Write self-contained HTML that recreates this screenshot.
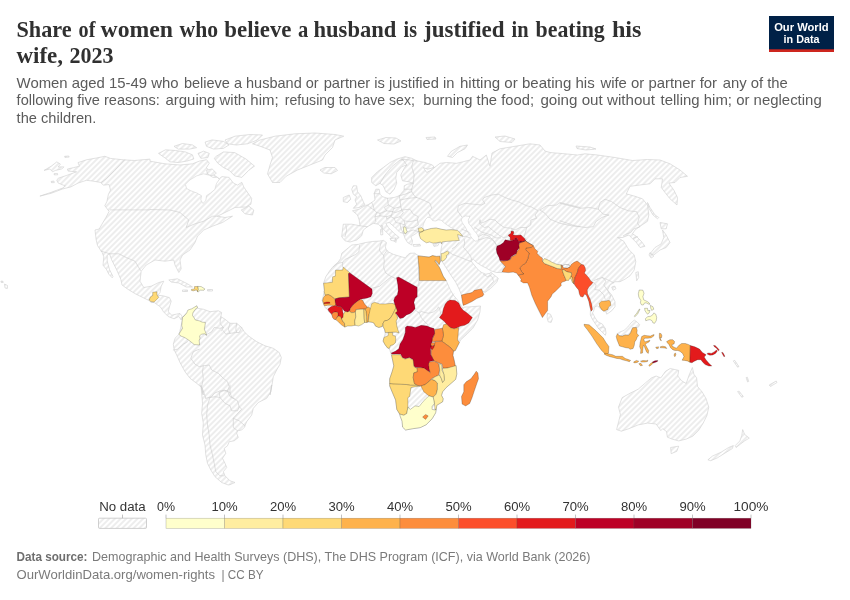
<!DOCTYPE html>
<html lang="en"><head><meta charset="utf-8"><title>Share of women who believe a husband is justified in beating his wife, 2023</title>
<style>html,body{margin:0;padding:0;background:#fff;}body{width:850px;height:600px;overflow:hidden;}svg{display:block}</style></head>
<body>
<svg width="850" height="600" viewBox="0 0 850 600">
<defs>
<pattern id="hatch" width="4" height="4" patternUnits="userSpaceOnUse" patternTransform="translate(-2.5 0) rotate(-45 2 2)"><rect width="4" height="4" fill="#fff"/><path d="M-1,2 l6,0" stroke="#ccc" stroke-width="0.7"/></pattern>
<pattern id="hatch2" width="4" height="4" patternUnits="userSpaceOnUse" patternTransform="translate(-4 0) rotate(-45 2 2)"><rect width="4" height="4" fill="#fff"/><path d="M-1,2 l6,0" stroke="#ccc" stroke-width="0.7"/></pattern>
</defs>
<rect width="850" height="600" fill="#fff"/>
<g fill="url(#hatch)" stroke="#cfcfcf" stroke-width="0.6" stroke-linejoin="round">
<path d="M351.8,245 358.2,244.4 365.3,242.6 372.4,241.5 379.4,241.1 383.5,240.4 386.5,242.6 385.3,246.8 386.5,250.3 388.8,252.1 393.5,254.4 399.4,256.2 405.3,257.9 407.6,255 410,253.2 414.7,253.2 418.2,255.6 423.2,256.4 429.1,257.1 432.6,255.6 436.2,256.4 439.9,256.2 440.3,261.5 439.1,264.6 435.6,260.6 439.7,267.9 443.2,276.2 446.2,280.6 450,289.2 453.3,295 457.5,300 460.8,305 463,308.3 464.2,307.2 471.7,306.7 480.5,306 480,311.8 477.6,320 472.9,328.2 467,334.1 460.6,340 459.4,342.4 455.3,350.6 453.5,351.2 452.9,355.3 454.1,360 455.3,365.9 456.2,366.5 456.8,374.1 455.6,379.4 450.9,383.5 446.2,387.6 442.6,391.8 441.5,395.3 443.2,398.8 442.6,401.8 436.8,405.3 436.2,409.4 435.6,412.9 432.1,418.8 426.2,424.7 420.3,427.6 412.1,428.8 405.6,430 402.6,427.1 402.1,421.2 400.3,416.5 399.7,414.1 396.8,409.4 395.6,400 392.1,391.8 389.7,385.9 389.7,378.8 392.1,371.8 393.8,365.9 392.6,360 391.2,354.7 390,350.6 389.2,348.6 387.3,347.7 384.9,344.4 383.1,341.1 384,337.4 384.9,335 385.2,332.5 384.7,329.8 383.1,326.5 382.1,326.5 378.8,327.5 375.5,326.1 374.1,323.2 372.2,322.3 368.9,321.8 365.5,321.6 361.8,323.5 355.2,324.2 348.8,323.2 344.7,324.6 340.6,322.6 337.1,319.9 335.3,319.5 332.9,317.4 331.5,314.1 328.8,311.7 327.6,309.4 325.3,307.9 324.1,305.8 322.1,300.3 323.2,296.4 324.4,290.3 323.6,283.2 325.8,276.7 330,270.3 333.5,266.2 338.2,262.1 340.6,258.5 341.8,253.2 345.3,250.3 348.8,247.4Z"/>
<path d="M39.9,196.1 51.2,192.3 62.5,188.1 65.3,185.9 58.2,183.1 56.8,180.3 58.2,178.2 66.7,175.4 76.6,171.8 68.1,171.1 67.4,169 73.8,167.6 79.4,166.2 78,162.6 86.5,159.8 96.4,158 104.8,156.3 110.5,158.4 123.2,159.8 134.5,160.5 150,159.1 150,161.2 165,163.8 180,165 192.5,163.8 199.4,161.1 206.5,159.7 209.3,163.2 206.5,167.5 209.3,171.7 212.8,174.5 216.4,176.6 219.2,178.8 222,176.6 229.1,177.4 233.3,183 237.5,185.1 241.8,182.3 243.9,187.2 248.8,194.3 251.7,198.5 250.9,204.2 246,207 235,207.5 225,212.5 217.5,216.2 225,217.5 232.5,216.2 222.5,222.5 212.5,226.2 203.8,230 197.5,236.2 195,242.5 190,250 182.5,255 180,260 181.2,268.8 178.8,272.5 175,265 173.8,260 165,261.2 155,260 146.2,265 141.2,271.2 140,281.2 143.8,287.5 151.2,286.2 158.8,282.5 163.8,281.2 161.2,286.2 160,292.5 157.8,295.2 163.5,295.9 169.4,297.6 171.2,301.2 169.4,307.1 168.2,311.8 171.8,315.2 176.5,314.1 180,313.5 182.3,316.5 181.2,320 178.8,316.5 174.1,318.8 168.2,316.5 163.5,311.8 160.6,307.1 154.1,302.4 151.2,302.5 149,300.5 141.8,297 134.8,293.5 127.8,289.2 122,285 120.8,279.2 116.5,269.5 111.5,259.5 109.5,253.9 107.2,255.2 107.2,261 109.5,269.5 113,276.5 112.2,277.8 108.8,274.2 106.5,269.5 103,265.2 103.8,256.8 102.2,252.5 101.2,251.2 97.5,245.5 96.2,240 95,230 99.2,229 102,224.1 106.2,217 109.1,211.4 104.8,205.7 106.9,201.5 108.4,194.4 110.5,190.2 109.1,184.5 103.4,185.2 100.6,182.4 92.1,181 86.5,180.3 78,183.1 70.9,186.9 62.5,189 51.2,193.3Z"/>
<path d="M44.1,170.4 51.2,166.2 56.8,161.9 60.4,164.1 58.2,166.9 63.9,166.9 61.8,169 55.4,170.4 52.6,171.8 49.8,169ZM64.6,156.3 68.8,156 69.1,157.1 64.9,157.4ZM51.2,181.4 54,181.1 54.3,182.6 51.5,182.7ZM54,173.7 57.5,173.5 57.7,174.8 54.3,174.9Z"/>
<path d="M1,281 3,281.3 3.2,282.5 1,282.3ZM4.5,284 7.5,285.5 7.3,288.5 5,288Z"/>
<path d="M272.5,182.5 267.5,173.8 270,165 272.5,157.5 270,150 260,146.2 252.5,143.8 260,140 275,136.2 295,133.8 315,133 335,134.5 343.8,136.2 335,140 332.5,147.5 325,155 322.5,160 310,165 297.5,170 286.2,176.2 280,182.5Z"/>
<path d="M320,170 325,167.5 335,167.5 337.5,170.5 331.2,173.8 323.8,173Z"/>
<path d="M216.4,156.2 223.4,151.9 234.7,152.6 246,159 254.5,166.1 248.8,170.3 241.8,177.4 234.7,175.9 229.1,170.3 223.4,167.5 217.8,163.2 214.2,158.3ZM158.5,153.4 165.5,149.8 175.4,150.5 185.3,151.9 192.4,154.8 193.8,159 186.7,161.1 178.2,162.5 169.8,161.8 165.5,158.3ZM174,146.3 182.5,143.5 192.4,144.9 196.6,147.7 189.5,149.1 178.2,149.1ZM198,153.4 203.6,151.2 209.3,153.4 207.9,157.6 200.8,158.3ZM205.1,142.1 212.1,139.9 223.4,141.4 229.1,144.9 223.4,148.4 213.5,149.1 206.5,146.3ZM206.5,170.3 212.1,168.9 216.4,173.1 212.1,175.9 207.9,174.5ZM225,140 235,136.2 250,134.5 262.5,135 257.5,140 247.5,143.8 236.2,145 227.5,143.8ZM241.2,210 248.8,206.2 253.8,210 252.5,215 245,213.8Z"/>
<path d="M168.8,280 177.5,278.8 187.5,283.8 192.5,287 186.2,287 178.8,283 171.2,282ZM182.5,290 187.5,290 187.5,291.5 182.5,291.5ZM207.5,289.5 212.5,289.5 212.5,291 207.5,291Z"/>
<path d="M182.5,319.5 183,316.5 188,312 196.5,306.5 196.7,305.8 197.5,308.3 203.3,309.2 210,311.7 218.3,310.8 221.7,312.5 220.8,316.7 225,319.2 230,323.3 236.7,323.3 241.7,327.5 244.2,331.7 248.3,335.8 256.7,341.7 265,345.8 273.3,348.3 279.2,352.5 281.3,357.5 280,364.2 276.7,370 273.3,376.7 271.7,386.7 270,395 271.7,385 270.8,391.7 266.7,398.3 258.3,402.5 253.3,408.3 251.7,415 246.7,421.7 244.2,427.5 241.7,430 237.5,430.8 236.7,433.3 238.3,437.5 234.2,440.8 229.2,441.7 227.5,445.8 224.2,448.3 225.8,453.3 222.5,458.3 225,463.3 226.7,467.5 223.3,471.7 225,475.8 230,480.8 235,482.5 230,484.7 228.3,485 221.7,482.5 215,476.7 210.8,470 207.5,463.3 205.8,455 205,445 202.5,435 203.3,423.3 201.7,413.3 202.5,403.3 201.7,393.3 200.8,385 203.3,395 201.7,387.5 196.7,383.3 190,378.3 185,371.7 180,362.5 176.7,355 174.2,350 173.3,344.2 175,338.3 179.2,334.2Z"/>
<path d="M418.3,231.7 415,234.2 410.8,236.7 412.5,240.8 411.7,245 407.5,242.5 405,238.3 403.3,233.3 400,232.5 394.2,226.7 389.2,222.5 385.8,223.3 388.3,227.5 394.2,233.3 399.2,237.5 396.7,239.2 395.8,242.5 391.7,237.5 386.7,232.5 381.7,227.5 378.3,224.2 373.3,223.3 367.5,226.7 363.3,230 361.7,235.8 356.7,240 350,242 345,240.8 341.7,236.7 342.5,230 343.3,224.2 351.7,224.2 360,225.8 359.2,220 357.5,215 352.5,210.8 359.2,209.2 363.3,206.7 367.5,205 371.7,202.5 375,200 374.2,193.3 375.8,189.2 379.2,189.2 380,194.2 382.5,196.7 387.5,198.3 394.2,197.5 399.2,195.8 404.2,190 404.2,185.8 407.5,184.2 413.3,183.3 408.3,181.7 402.5,180.8 400.8,175 404.2,168.3 406.7,165 401.7,166.7 396.7,172.5 395.8,178.3 396.7,183.3 394.2,189.2 390,194.2 385.8,191.7 383.3,185.8 380,183.3 375.8,185.8 371.7,182.5 371.7,177.5 377.5,171.7 383.3,167.5 390,162.5 396.7,159.2 405,156.7 411.7,158.3 416.7,160.8 425,162.5 432.5,165 434.2,167.5 427.5,169.2 423.3,167.5 426.7,172.5 430,170.8 436.7,165.8 440,163.3 446.7,162.5 456.7,163.3 463.3,161.7 470,160 472.5,156.3 480,160 486.3,155 490,166.3 492,153 500,148.8 515,146.3 530,143.8 540,145 545,151 550,152.5 565,153.8 577.5,155 585,153.8 597.5,155 615,157.5 632.5,160.5 647.5,159.5 660,160 670,163.8 680,170 687.5,176.3 680,177.5 675,182.5 668.8,183 673.8,190 677.5,197.5 677,205 670,198.8 665,192.5 661.3,187.5 662.5,178.8 655,178.8 650,183.8 640,185 630,186.3 626.3,193.8 635,196.3 642.5,198.8 647.5,205 648.8,215 647.5,221.3 640,226.3 635,230 632.5,233.8 636.3,236.3 641.3,241.3 645,246.3 640,247.5 636.3,242.5 631.3,237.5 628.8,235 622.5,237.5 617.5,237.5 623.8,241.3 627.5,247.5 629.2,250 634.2,255 635.8,261.7 634.2,270 630,275.8 625,279.2 620,281.7 615,281.7 610,285 607.5,290 611.7,295 615,301.7 615,306.7 611.7,310.8 606.7,314.2 605.8,311.7 601.7,310 597.5,305.8 595,306.7 593.3,311.7 592.5,312.8 594.8,317.3 597.8,321.8 602.3,324 605.3,328.5 606,333 605.3,335.3 602.3,332.3 598.5,328.5 595.5,324 592.5,319.5 590.3,315 590.5,309 589,301 586,294 581,291 577,281 570,272 560,275 545,292 530,278 522,272 510,268 503,269 501.7,272.5 496.7,272.5 490.8,270.8 486.7,268.3 481.7,265.8 476.7,262.5 473.3,259.2 470.8,260.8 474.2,265 478.3,270 481.7,272.5 485.8,274.2 490,273.3 490.8,272.2 494.2,275 498.3,278.3 496.7,282.5 490.8,288.3 485,292.5 482.5,290.8 473.3,295 465,296.7 462,298.3 461.5,295 459.2,289.2 455.7,282.2 450.8,275 445,266 441.7,260.8 440.3,256.2 440.9,250.3 441.8,245.6 442.1,243.8 432,238 421,237 419.1,234.4 418.3,230.9Z"/>
<path d="M353.3,185.8 356.7,185.8 357.5,191.7 360.8,195.8 363.3,201.7 365,205 359.2,207.5 353.3,208.3 356.7,204.2 355,200 356.7,196.7 353.3,194.2 351.7,189.2ZM343.3,197.5 349.2,195 350.8,199.2 347.5,202.5 343.3,201.7ZM390,238.3 395.8,238 395,241.3 390.8,240.3ZM380.5,229.5 382.5,229.2 382.8,234.7 380.8,235ZM381.3,225.5 382.7,225.8 382.5,228.7 381.3,228.3ZM433,244.3 439.5,242.3 438,245.6 434,246.4ZM413,244.6 420,244.3 420.5,246 413.5,246.3ZM377.5,140 386,137.5 396,138 401,141 394,144 384,143.5ZM426,137.5 435,137 436,139 427,139.5ZM447.5,156.3 451.3,151.3 460,146.3 467.5,145 465,148.8 457.5,152.5 452.5,157.5ZM495,137 505,136 515,139 512,142.5 500,141.5ZM576,146 590,147 596,149 586,150 577,148.5Z"/>
<path d="M647.5,202.5 650,207.5 655,215 658.8,217.5 657.5,218.8 653,215 648.8,208ZM660,222.5 667.5,223.8 666.2,228.8 661.2,228.8ZM662.5,230 666.2,235 670,242.5 666.2,247.5 660,250 653.8,255 650,253.8 655,247.5 661.2,243.8 663.8,237.5ZM650,252.5 653.8,256.2 651.2,258 649,255ZM635.8,272.5 638.3,271.7 638.7,277.5 636.7,280.8ZM611.7,287 614.7,286 616,288.7 613,290.3ZM547.4,313.2 550.6,314.4 552.4,318.8 551.2,322.4 548.2,321.8 547.1,317.6Z"/>
<path d="M617.4,333.7 619.9,332 624,330.4 627.7,327.1 631,322.9 634.3,320.1 637.2,322.1 639.7,324.6 638.4,327.1 636.4,327.5 632.7,327.7 631.8,329.5 630.6,332.8 628.5,335.3 625.2,334.9 622.4,336.1 619.1,335.7Z"/>
<path d="M616.6,429.6 618.5,422.1 620.4,414.6 618.5,407.1 622.2,397.6 630.7,392.9 638.2,389.2 645.8,382.6 651.4,377.9 656.1,376 660.8,377.9 665.5,371.3 670.2,368.5 678.7,370.4 677.8,376 681.5,380.7 686.2,383.5 689.1,375.1 692.4,367.5 693.8,374.1 696.6,377.9 697.5,386.4 702.2,392 706,398.6 708.8,407.1 706.9,415.5 703.2,423.1 698.5,430.6 692.8,436.2 686.2,439.1 678.7,440.9 672.1,439.1 667.4,437.2 666.5,431.5 662.7,428.7 660.8,430.6 656.1,424 647.6,423.1 638.2,424.9 628.8,428.7 621.3,431.2ZM670.6,447.5 678.7,446.2 676.8,451.3 671.2,453.7ZM742.7,429.6 744.6,434.4 749.3,438.1 744.6,440.9 740.8,443.8 736.1,447.5 735.2,445.6 739.9,440.9 741.8,435.3ZM733.3,445.6 732.4,448.5 724.8,453.2 717.3,457.9 710.7,460.7 707.9,459.8 712.6,456 721.1,452.2 728.6,447.5ZM737.6,391.6 739.1,391.2 743.3,396.5 741.8,397.3ZM746.1,377.5 747.4,377.3 748.7,381.5 747.6,382ZM769.2,385 776.2,381 777,382.5 770.5,386.5ZM733.3,360.9 734.8,360.4 738.9,366.6 737.6,367.2Z"/>
</g>
<g fill="#fff" stroke="#d4d4d4" stroke-width="0.6" stroke-linejoin="round">
<path d="M185.3,184.4 189.5,180.2 196.6,175.9 203.6,173.8 209.3,175.2 212.8,177.4 217.8,177.4 219.2,179.5 216.4,183.7 214.9,189.4 210.7,192.9 206.5,195.7 205.8,200.7 202.9,203.5 200.8,199.9 201.5,195.7 196.6,192.9 190.9,190.8 186.7,188.6Z"/>
<path d="M422.7,227.2 423.5,223.9 425.6,219.4 427.7,217.3 430.5,217.7 432.6,220.6 435.5,221 438.4,219.8 441.2,220.2 444.5,223.1 447.8,225.5 451.1,227.6 454.4,229.5 451.1,229.9 446.2,230.3 441.2,229.4 436.3,228.2 431.4,228.6 423.9,230.5Z"/>
<path d="M462.4,217.6 465.3,215.9 470,216.5 468.2,220 468.8,223.5 471.8,227.1 474.1,230.6 477.1,234.1 478.8,237.6 478.8,240.6 475.3,241.2 472.4,238.8 470,235.3 467.6,231.8 465.3,227.1 462.4,222.9 461.2,220Z"/>
</g>
<g fill="none" stroke="#cdcdcd" stroke-width="0.6" stroke-linejoin="round" stroke-linecap="round">
<polyline points="124.6,159.8 114.7,170.4 106.2,178.9 101.3,182.4"/>
<polyline points="110.5,209.9 150,209.9 150,209.5 170,210 180,212.5 188.8,220 186.2,227.5 195,223.8 203.8,221.2 212.5,216.2 217.5,216.2"/>
<polyline points="101.2,251.2 110,253.8 118.8,253.8 126.2,257.5 135,261.2 140.5,270.5"/>
<polyline points="359.6,245.4 358.9,251.8 355.4,254.6 349.7,257.4 344.8,259.5 342.6,262.4 342.4,266.9"/>
<polyline points="342.6,262.4 337.7,263.3 333.5,266.6"/>
<polyline points="381.5,241.9 380.1,246.1 379.4,250.4 381.5,253.2 383.6,255.3"/>
<polyline points="387.1,250.4 385,253.2 383.6,255.3 384.3,261.6 383.6,267.3 385.7,272.9 389.9,275.8 391.4,276.5 395.6,278.6 397,277.6"/>
<polyline points="391.4,276.5 379.4,286.4 372,288.2"/>
<polyline points="418.2,256.7 418.9,280.7 418.9,285.9 416.8,286.4"/>
<polyline points="414.4,309.1 416.8,311.5 419.1,312.9 421.5,311.5 425,312.6 428.5,313.2 433.2,312.1 436.8,309.7 438.5,306.8 439.7,309.1 440.9,314.4"/>
<polyline points="419.1,312.9 421.5,317.9 425,322.1 427.9,324.6"/>
<polyline points="449.5,299.9 451.5,296.2 453.8,293.8"/>
<polyline points="345.8,225 346.7,230 345,236.7"/>
<polyline points="360,225.8 367.5,226.7"/>
<polyline points="367.5,205 370,207.5 374.2,210 376.7,212.5 375,216.7 375.8,221.7 374.2,223.3"/>
<polyline points="371.7,202.5 373.3,205.8 374.2,210"/>
<polyline points="387.5,198.3 388.3,205 384.2,207.5 386.7,210.8 380,213.3 376.7,212.5"/>
<polyline points="380,213.3 380,215.8 375,216.7"/>
<polyline points="386.7,210.8 392.5,211.7 391.7,215 386.7,216.7 380,215.8"/>
<polyline points="386.7,216.7 386.7,219.2 390.8,216.7 394.2,218.3 395.8,222.5 400,223.3 400.8,228.3 403.3,233.3"/>
<polyline points="399.2,195.8 400,200 400.8,206.7 394.2,208.3 388.3,205"/>
<polyline points="392.5,211.7 394.2,208.3"/>
<polyline points="400.8,206.7 401.7,210 395.8,212.5 392.5,211.7"/>
<polyline points="391.7,215 390.8,216.7"/>
<polyline points="401.7,210 403.3,212.5 400,216.7 394.2,218.3"/>
<polyline points="401.7,210 410,209.2 413.3,214.2 418.3,216.7 417.5,220 410,221.7 404.2,220.8 400,216.7"/>
<polyline points="404.2,220.8 405,225 407.5,228.3 413.3,227.5 418.3,225 417.5,220"/>
<polyline points="400,200 408.3,198.3 416.7,197.5 423.3,200 430,203.3 431.7,208.3 428.3,212.5 430,215.8"/>
<polyline points="399.2,195.8 405,194.2 411.7,191.7 415,196.7 416.7,197.5"/>
<polyline points="404.2,189.2 411.7,189.2"/>
<polyline points="413.3,183.3 411.7,189.2 411.7,191.7"/>
<polyline points="413.3,182.5 414.2,175 411.7,166.7 413.3,160.8"/>
<polyline points="406.7,165 403.3,160 401.7,159.2"/>
<polyline points="380,183.3 385,175 391.7,166.7 400,160 403.3,160"/>
<polyline points="401.7,159.2 410,160 413.3,160.8 416.7,160.8"/>
<polyline points="403.3,233.3 408.3,231.7 413.3,230 418.3,231.7"/>
<polyline points="400,223.3 405,225"/>
<polyline points="374.2,193.7 379.2,193.7"/>
<polyline points="461.7,216.7 457.5,210.8 458.3,205.8 465,203.3 473.3,204.2 481.7,205 485,203.3 482.5,200 484.2,197.5 491.7,195 498.3,194.2 505,197.5 511.7,200 518.3,201.7 526.7,205.8 530.8,206.7 538.3,210.8 535,215 536.7,218.3 530.8,220 530.8,225 526.7,227.5 520,227.5 515,230 511.7,228.3 512.5,231.7"/>
<polyline points="480,220 480.8,223.3 485,221.7 490,219.2 495,220 498.3,223.3 504.2,227.5 511.7,228.3"/>
<polyline points="480,220 479.2,223.3 484.2,227.5 488.3,226.7 493.3,230.8 500,235.8 503.3,237.5 508.3,236.7"/>
<polyline points="478.3,236.7 483.3,234.2 488.3,235.8 493.3,240 495.8,244.2"/>
<polyline points="526.7,227.5 524.2,236.7 526.7,240"/>
<polyline points="540,210 546.7,205.8 556.7,205 560,202.5 566.7,204.2 580,207.5"/>
<polyline points="540,210 545,213.3 550,219.2 560,223.3 571.7,225.8 580,226.7"/>
<polyline points="560,203.3 570,205.8 580,208.3 590,207.5 598.3,209.2 600,202.5 605,199.2 611.7,201.7 620,207.5 628.3,210.8 636.7,211.7 639.2,217.5 637.5,223.3 640,226.7 633.3,229.2 630.8,232.5 625.8,234.2 623.3,235.8"/>
<polyline points="598.3,209.2 603.3,214.2 609.2,215 601.7,217.5 595.8,221.7 593.3,226.7 585,227.5 575,225.8 565,222.5 560,220.8"/>
<polyline points="633.3,238.3 637.5,236.7"/>
<polyline points="458.8,242.6 455.3,246.8 452.4,248.5"/>
<polyline points="464.1,239.1 464.7,243.8 463.5,247.4 467.6,252.1 470.6,256.2 471.8,260.1"/>
<polyline points="448.8,251.5 452.4,254.4 460.6,257.4 467.6,260.3 471.2,261.5"/>
<polyline points="462.4,236.8 465.3,236.2 470,237.9"/>
<polyline points="478.2,239.7 481.8,239.1 486.5,237.4 491.2,239.1 495.3,242.6 496.5,245.6"/>
<polyline points="500.6,260.9 502.9,265 505.3,268.5 501.8,272.1"/>
<polyline points="487.6,287.9 493.5,281.5 492.4,277.4 490,275.6"/>
<polyline points="483.5,274.4 487.6,276.8 491.2,275"/>
<polyline points="461.8,229.1 468.8,232.1 470.6,234.4"/>
<polyline points="474.7,227.4 481.8,232.1 491.2,235 495.9,237.9 500.6,237.9"/>
<polyline points="220.8,316.7 220,323.3 223.3,327.5 221.7,330.8"/>
<polyline points="205.8,335 211.7,331.7 214.2,327.5 220,328.3 223.3,327.5"/>
<polyline points="230,323.3 228.3,329.2 230,333.3"/>
<polyline points="236.7,323.3 235.8,329.2 236.7,332.5"/>
<polyline points="241.7,327.5 239.2,332.5 236.7,332.5 230,333.3 225.8,334.2 223.3,330.8"/>
<polyline points="173.3,350 177.5,349.2 183.3,344.2 187.5,341.7"/>
<polyline points="199.2,349.2 193.3,351.7 190.8,358.3 195,364.2 199.2,366.7 203.3,365.8 209.2,365 211.7,370 218.3,373.3 223.3,378.3 227.5,381.7 229.2,386.7 227.5,390.8"/>
<polyline points="203.3,365.8 202.5,371.7 203.3,378.3 201.7,386.7 204.2,393.3 205.8,398.3"/>
<polyline points="205.8,398.3 211.7,396.7 214.2,393.3 220,390.8 227.5,390.8 230,396.7 234.2,398.3"/>
<polyline points="210,397.5 207.5,405 206.7,415 207.5,425 209.2,435 210,445 212.5,455 214.2,463.3 215.8,471.7 220,475.8 224.2,475.8"/>
<polyline points="210,397.5 215,396.7 220,397.5 219.2,392.5 224.2,390 230,392.5 231.7,397.5 237.5,400.8 239.2,406.7 237.5,410.8 231.7,410.8 230,405.8 225,403.3 220,397.5"/>
<polyline points="239.2,406.7 241.7,409.2 233.3,418.3 239.2,420.8 245,425.8"/>
<polyline points="233.3,418.3 233.3,427.5 237.5,430.8"/>
<polyline points="230,392.5 230,385"/>
<polyline points="593.2,282 596.2,285 594.7,289.5 599.2,290.2 603.7,294.7 605.2,299.2"/>
<polyline points="597.7,279 602.2,277.5 606,281.2 603.7,285 607.5,290.2 610.5,295.5 609.7,299.2"/>
<polyline points="594,280.5 597.7,279"/>
<polyline points="602.2,277.5 607.5,279.7 613.5,282.7"/>
<polyline points="598.5,328.5 602.2,327 605.2,328.5"/>
</g>
<g stroke="#000" stroke-opacity="0.42" stroke-width="0.5" stroke-linejoin="round">
<path fill="#fed976" d="M343.3,267.1 350,272.9 348.5,273.6 349.4,297.1 344.1,297.4 339.2,297.8 335.3,298.8 333.2,297.8 331.1,296 328.2,294.6 325.1,295.3 324.2,291.4 324.4,290.3 323.6,283.2 332.4,282.3 332.6,276.8 335.3,276.2 335.6,270.1 342.7,270.1Z"/>
<path fill="#bd0026" d="M348.5,273.6 350,272.9 372,289.1 372.3,293.5 370.9,296.7 367.4,298.1 363.2,298.8 360.7,299.2 357.5,301.3 354.7,303.4 352.6,305.5 350.5,308.3 349.4,311.2 347.6,311.9 345.2,311.5 344.5,311.2 342.3,308.3 340.6,306.4 338.1,306.6 335.6,305.2 334.9,301.6 335.3,298.8 339.2,297.8 344.1,297.4 349.4,297.1Z"/>
<path fill="#fd8d3c" d="M350.5,308.3 352.6,305.5 354.7,303.4 357.5,301.3 360.7,299.2 362.8,300.6 364.6,304.1 367,306.6 367.4,307.6 364.9,309.1 360.3,309.2 356.1,309.6 355.4,311.9 353.3,312.6 351.2,312.6 349.4,311.2Z"/>
<path fill="#feb24c" d="M325.1,295.3 328.2,294.6 331.1,296 333.2,297.8 334.9,299.2 335.6,305.2 333.9,305.9 331.1,305.2 327.9,305.2 325.1,305.9 324,305.2 322.6,300.6 323.3,297.8Z"/>
<path fill="#e31a1c" d="M327.9,309.1 331.1,306.6 333.9,306.1 335.6,305.4 338.1,306.6 340.6,306.4 342.3,308.3 342.7,311.2 343.4,314.3 343.1,317.2 341.6,318.9 340.6,316.8 338.5,316.1 337.1,317.5 338.1,314.7 337.8,312.6 335.3,311.9 333.2,312.6 331.8,314.3 330,312.6 328.6,310.8Z"/>
<path fill="#fd8d3c" d="M331.8,314.3 333.2,312.6 335.3,311.9 337.8,312.6 338.1,314.7 337.1,317.5 335.6,319.6 333.9,319.3 332.5,317.2Z"/>
<path fill="#feb24c" d="M337.1,317.5 338.5,316.1 340.6,316.8 341.6,318.9 342.7,321.1 344.5,323.2 344.8,327.1 342,325.3 339.2,322.8 336.7,320.3 335.6,319.6Z"/>
<path fill="#fed976" d="M343.4,314.3 345.2,311.5 347.6,311.9 349.4,311.2 351.2,312.6 353.3,312.6 355.4,311.9 355.8,316.8 354.7,321.1 355.1,325.3 351.2,326 347.6,326 344.8,327.1 344.5,323.2 342.7,321.1 341.6,318.9 343.1,317.2Z"/>
<path fill="#ffeda0" d="M356.1,309.6 360.3,309.2 363.9,309.2 364,313.3 364.2,318.2 364.6,322.5 361.8,324.6 358.6,326 355.1,325.3 354.7,321.1 355.8,316.8 355.4,311.9Z"/>
<path fill="#feb24c" d="M364.9,309.1 367.4,307.6 368.8,306.9 370.9,309.1 370.6,311.9 369.2,314 368.5,317.5 368.2,322.1 366.7,322.5 366.6,316.8 366,311.2Z"/>
<path fill="#fed976" d="M370.8,306.8 371.8,303.5 374.6,302.3 379.8,303.9 385.4,303.9 392,303.3 395.3,304.4 396.2,305.8 395.8,308.2 394.4,311 392.5,314.8 390.1,318.5 387.3,320.4 384.5,320.9 383.1,323.2 382.1,326.5 378.8,327.5 375.5,326.1 374.1,323.2 372.2,322.3 368.3,321.8 368.7,317.6 369.2,313.8 370,310.1Z"/>
<path fill="#fed976" d="M396.2,305.8 397.2,309.1 397.6,312.4 395.6,313.4 397.2,316.2 397.6,318.5 396.2,320.9 396.7,325.1 397.6,328.9 399.1,333.1 396.2,332.2 392.5,332.2 388.2,332.5 385.2,332.5 384.7,329.8 383.1,326.5 383.1,323.2 384.5,320.9 387.3,320.4 390.1,318.5 392.5,314.8 394.4,311 395.8,308.2Z"/>
<path fill="#fed976" d="M388.2,332.6 392.5,332.5 392.9,335.5 395.3,335.9 395.8,339.2 395.3,343 392.9,344.9 390.6,345.4 389.2,348.6 387.3,347.7 384.9,344.4 383.1,341.1 384,337.4 388.2,335.5Z"/>
<path fill="#bd0026" d="M396.6,277.8 398.6,277 417.2,287.3 417.2,296.8 415.1,298.4 413.9,302.5 414.7,305.4 415.1,308.7 412.2,312 409.8,313.7 406.5,314.9 403.2,317.8 399.9,318.6 397.8,315.7 395.4,312.8 397.4,311.2 396.6,308.7 394.9,304.6 393.7,300.5 394.9,297.2 397.4,294.7 398.2,290.6 397.8,284.8 397,280.7Z"/>
<path fill="#e31a1c" d="M450,300 455.3,300.6 458.8,302.9 460.6,307.1 462.9,310 467.1,312.9 472.4,317.6 468.8,322.9 464.7,325.3 460.6,326.1 457.6,327.6 454.1,328.8 450,327.6 446.5,324.1 444.1,321.2 439.4,317.6 442.4,313.5 443.5,308.2 445.3,304.1 447.6,301.2Z"/>
<path fill="#feb24c" d="M443.5,324.7 446.5,324.1 450,327.6 454.1,328.8 458.6,327.6 458.2,334.1 457.6,340 459.4,342.4 455.3,350.6 453.5,351.2 450.6,347.6 441.8,341.2 443.5,335.3 442.4,328.8Z"/>
<path fill="#fd8d3c" d="M434.7,329.4 442.4,328.2 443.5,335.3 441.8,341.2 436.5,341.2 432.4,341.8 431.8,340 434.1,335.3Z"/>
<path fill="#fd8d3c" d="M434.7,341.8 441.8,341.2 450.6,347.6 453.5,351.2 452.9,355.3 454.1,360 455.3,365.9 451.8,367.6 445.3,368.2 442.9,368 442.1,364.1 437.6,362.4 433.5,360.6 431.2,355.3 431.2,350.6 433.5,347.1 434.7,344.1Z"/>
<path fill="#bd0026" d="M407.1,325.9 411.8,326.5 415.3,327.4 421.2,325.3 427.1,325.9 430.6,327.6 434.1,328.6 434.7,333.5 432.4,338.2 431.8,342.9 430.6,348.8 430.8,354.7 433.9,360.4 429.6,361.4 428.8,365.3 430,371.8 428.2,371.2 424.1,368.2 420,367.6 415.3,367.6 413.5,365.3 412.9,359.4 409.4,357.6 405.3,358.8 402.4,357.6 400.6,354.1 391.8,354.1 391.2,352.9 395.3,351.2 398.8,348.8 400,344.1 402.9,339.4 405.3,332.4 405.3,327.6Z"/>
<path fill="#fed976" d="M391.5,354.7 400.3,354.7 402.1,357.6 405,359.1 409.1,357.9 413.2,360 413.8,366.5 417.4,368.8 417.4,371.8 413.8,372.9 413.2,377.6 414.4,383.5 417.4,385.3 410.3,385.3 406.2,384.5 393.2,384.1 389.7,383.5 389.7,378.8 392.1,371.8 393.8,365.9 392.6,360Z"/>
<path fill="#fed976" d="M389.7,383.5 393.2,384.1 406.2,384.5 410.3,385.3 417.4,385.3 420.3,386.1 415.6,386.7 410.9,387.6 409.7,396.5 407.9,397.6 407.9,407.1 406.8,413.5 403.8,415.3 399.7,414.1 396.8,409.4 395.6,400 392.1,391.8 389.7,385.9Z"/>
<path fill="#fd8d3c" d="M413.8,372.9 417.4,371.8 417,368.2 417.9,367.5 423.8,368 429.1,371.8 430.3,372.9 429.1,368.8 428.5,363.5 430.3,361.8 434.4,361.2 438.5,363.5 439.7,369.4 438.5,375.3 434.4,377.1 431.5,378.8 428.5,381.8 425,384.7 420.9,385.9 417.4,385.3 414.4,383.5 413.2,377.6Z"/>
<path fill="#feb24c" d="M420.9,385.9 425,384.7 428.5,381.8 431.5,379.4 435,380.6 437.4,382.9 437.4,389.4 436.2,394.1 433.2,397.1 429.1,395.9 423.8,391.8Z"/>
<path fill="#ffeda0" d="M442.1,368.5 447.4,368 454.4,366.1 456.2,365.6 456.8,374.1 455.6,379.4 450.9,383.5 446.2,387.6 442.6,391.8 441.5,395.3 443.2,398.8 442.6,401.8 436.8,405.3 436.2,409.4 435,409.4 434.4,403.5 433.2,397.1 436.2,394.1 437.4,389.4 437.4,382.9 435,380.6 432.1,379.4 434.4,377.1 438.5,375.3 439.7,375.3 441.5,378.8 442.6,382.4 444.4,380 443.8,374.1Z"/>
<path fill="#ffffcc" d="M399.7,414.1 403.8,415.3 406.8,413.5 407.9,407.1 410.3,409.4 415,405.9 419.1,406.5 421.5,403.5 425.6,398.8 429.1,395.9 433.2,397.1 434.4,403.5 432.1,406.5 432.1,409.4 435,410 436.2,409.4 435.6,412.9 432.1,418.8 426.2,424.7 420.3,427.6 412.1,428.8 405.6,430 402.6,427.1 402.1,421.2 400.3,416.5Z"/>
<path fill="#fd8d3c" d="M476.2,371.2 477.9,372.9 478.5,378.8 476.8,383.5 474.4,390.6 472.1,397.6 469.7,403.5 465.6,405.9 462.1,404.1 461.5,396.5 463.8,391.8 463.8,384.7 466.2,381.8 470.9,378.8 474.4,374.1Z"/>
<path fill="#ffeda0" d="M419.4,232.9 423.9,230.5 431.4,228.4 436.3,228 441.2,229.2 446.2,230.1 451.1,229.7 455.2,230.1 457.7,230.5 460.2,232.9 462.7,236.2 460.2,235.4 457.7,234.6 458.5,238.7 459.4,240.4 454.4,240.8 449.5,241.2 444.5,241.6 442.1,242 441.7,243.7 440.8,242 436.3,242.8 433,243.2 429.7,242 426.4,242.8 423.9,241.2 420.6,238.7 419.4,235.4ZM418.2,228.4 421.5,227.6 424.1,229.7 422.7,231.7 419,232.1Z"/>
<path fill="#ffffcc" d="M403.7,226.9 405.1,226.7 406,228.1 406.3,229.9 407.2,231.3 406.3,232.7 405.4,234.1 404.5,233.1 403.7,231.3 403.5,228.8Z"/>
<path fill="#ffeda0" d="M441.3,253.5 443.8,253.1 447.3,251 449.1,252.4 448.4,254.2 446.3,255.6 446.6,257.4 444.5,260.2 442.4,261.2 441,260.5 441.3,257Z"/>
<path fill="#feb24c" d="M417.9,255.9 423.2,256.4 429.1,257.1 432.6,255.6 436.2,256.4 439.9,256.2 440.3,261.5 439.1,264.6 437.4,262.1 435.6,260.3 434.8,260.9 436.4,263.2 439.7,267.9 443.2,276.2 446.2,280.6 419.5,280.6 419.1,267.9Z"/>
<path fill="#fd8d3c" d="M461.5,295 466.2,293.8 472.1,292.6 474.4,290.3 481.5,288.9 483.8,294.4 482.6,296.2 476.8,298.5 472,301.5 467.4,303.8 463.2,305.4 462.1,300.3Z"/>
<path fill="#fd8d3c" d="M525.6,240.9 528.5,243.2 533.2,245.6 534.9,248.7 537.8,251.6 537,253.2 539.1,255.7 542.4,258.2 542.4,261.1 544.4,263.5 548.9,265.2 553.1,266.8 557.2,268.5 561.3,268.9 561.3,264.8 562.5,265.4 563.4,267.7 567.1,268.1 570,266.8 571.2,264.4 574.1,262.3 577,261.1 579,262.3 581.5,264.4 579.4,266.8 578.2,268.9 577.4,272.2 576.1,275.1 574.9,277.5 574.5,281.2 573.7,283.7 572.8,281.2 572.4,277.9 571.2,276.7 570.4,277.5 571.6,274.7 571.2,272.6 568.7,272.2 566.2,271.4 563.8,269.7 562.1,269.7 562.9,272.2 563.8,274.7 565,277.5 566.2,280.4 565,281.2 562.1,282.1 560.9,283.7 561.3,285.4 558,288.7 554.7,292 552.2,294 551.2,296.5 547.6,301.2 547.6,310.6 545.3,313.5 542.4,317.6 538.8,310.6 535.3,303.5 531.8,295.3 529.4,287.1 527.6,282.9 523.5,282.9 520.6,281.2 521.2,279.4 518.2,275.1 523.8,273.8 521.5,271.5 519.7,267.9 522.6,265 525.6,263.2 527.9,258.5 529.1,253.2 525.6,249.7 526.2,247.9 531.5,247.4 533.2,245.6Z"/>
<path fill="#fd8d3c" d="M525.6,240.9 528.5,243.2 533.2,245.6 531.5,247.4 526.2,247.9 525.6,249.7 529.1,253.2 527.9,258.5 525.6,263.2 522.6,265 519.7,267.9 521.5,271.5 523.8,273.8 517.9,275 516.8,273.2 513.2,272.1 508.5,272.6 502.1,272.1 503.8,268.5 505.6,266.8 500.3,260.9 505,260.9 510.3,259.7 511.5,256.8 515.6,255 516.2,252.6 519.1,249.1 518.5,245.6 520.3,242.6Z"/>
<path fill="#9f0026" d="M505.2,239.8 510.2,240.7 511.4,240.7 514.3,239.4 515.5,237.8 517.2,238.6 518.4,241.5 520.9,241.1 522.9,241.5 525.4,240.2 525.8,240.8 522.5,241.9 519.7,242.7 518.8,244.8 519.2,248.1 517.2,250.5 516.4,253.4 513.9,255.1 511,256.7 510.2,259.2 507.7,260.4 503.6,260.8 499.9,260.4 499.1,257.5 497,253.4 496.2,249.3 497,246 500.3,244.8 503.2,242.7Z"/>
<path fill="#e31a1c" d="M511,231.2 513.5,231.2 513.9,233.2 512.7,234.5 514.7,235.3 518,235.3 520.9,234.9 522.9,236.9 524.6,238.6 525.4,240.2 522.9,241.5 520.9,241.1 518.4,241.5 517.2,238.6 515.5,237.8 514.3,239.4 511.4,240.7 510.2,240.2 510.2,237.4 508.1,235.3 509.8,234.1 511,233.2Z"/>
<path fill="#fc4e2a" d="M581.5,264.4 583.5,264.8 585.2,267.7 585.6,270.5 584.4,273 586.8,275.5 588.9,277.9 591,281.2 593,282.5 591.4,284.5 588.9,287 587.2,289.9 587.6,294.1 590,298.8 591.8,304.7 592.4,309.4 591.2,311.2 590,307.1 588.8,301.2 586.5,295.3 584.7,294.1 582.9,297.1 580.6,296.5 579.4,294.1 578.6,289.9 576.1,287 574.1,284.1 574.5,281.2 574.9,277.5 576.1,275.1 577.4,272.2 578.2,268.9 579.4,266.8Z"/>
<path fill="#feb24c" d="M599.1,303.5 601.5,301.2 606.2,300.9 609.1,300.2 610.3,301.8 610.9,305.3 608.5,307.1 607.9,309.4 603.8,311.2 601.5,309.4 599.7,306.5Z"/>
<path fill="#ffffcc" d="M639.2,290 642.9,290.2 644,293.3 642.9,296.7 643.8,300 645.8,300.8 648.3,302.1 650,304.2 648.8,304.2 646.2,302.9 644.6,302.9 643.3,305 641.7,305 640.4,302.9 640.8,300.4 638.8,297.1 638.3,293.8ZM650.4,305.4 652.9,306.7 653.8,309.2 651.7,310.4 650.8,308.3ZM644.6,308.3 647.5,308.3 647.9,310.8 650,310.4 649.2,312.9 647.5,314.2 646.2,312.5 645,310.8ZM645.4,318.8 647.5,316.7 650.8,316.2 652.9,314.6 653.8,312.9 655.8,314.2 656.7,317.5 656.2,320.8 654.6,323.3 652.9,322.9 652.1,320.8 650,319.6 647.9,320 645.8,320.8ZM634.2,316.2 636.7,313.3 639.2,309.2 640,309.3 637.5,314.2 634.8,316.8Z"/>
<path fill="#feb24c" d="M584,324.3 589.1,324.8 595.7,330.5 603.2,338 606.1,342.7 608.9,346.5 608.5,353.1 606.1,354.9 601.4,350.2 596.6,343.6 591.9,336.1 587.2,329.5 584.4,326.1Z"/>
<path fill="#feb24c" d="M666.6,341.6 669.9,339.7 672.7,339.7 674.6,341.6 674.1,343.9 672,344.6 672.2,346.1 674.6,347.4 676.5,348.2 678.8,345.4 681.6,343.5 685.4,343.5 688.2,344.4 690.3,345.5 689.9,362.3 687.3,360.9 684.5,360.4 682.1,360.2 684,356.6 682.6,353.4 680.2,351.5 677.9,350.5 675.1,350.5 673,349.9 670.5,347.7 668.9,344.4 667.5,343Z"/>
<path fill="#e31a1c" d="M690.3,345.5 694.8,346.8 699.5,349.1 702.4,352.4 706.1,354.8 704.2,357.1 706.1,359.9 708.9,363.2 711.8,366.1 708.9,366.1 705.2,364.6 702.8,362.3 700.9,359.7 697.6,359.7 693.9,361.4 692,362.8 689.9,362.3ZM707.1,353.4 708.9,352.9 711.3,353.4 714.1,351.9 716.5,350.1 717.4,351 715.5,353.4 712.7,355 709.9,355.2 707.5,354.3ZM713.5,345.4 715.1,345.5 717.9,348.2 719.3,350.1 718.4,350.8 716.5,348.2 714.1,346.5ZM721.6,352.4 722.9,352.4 724.9,356.2 724,356.8Z"/>
<path fill="#feb24c" d="M617.4,333.7 619.1,335.7 622.4,336.1 625.2,334.9 628.5,335.3 630.6,332.8 631.8,329.5 632.7,327.7 636.4,327.5 637.2,330.4 636.8,333.2 638.8,335.7 637.2,336.9 636.4,339.4 634.7,341.9 634.3,345.2 633.1,348.5 630.2,349.3 628.5,348.1 625.7,347.7 622.4,346.8 619.5,346 618.2,342.7 617,339.8 616.2,336.5Z"/>
<path fill="#feb24c" d="M641.7,336.5 644.2,335.3 647.1,335.7 650.4,336.1 652.8,334.9 654.1,334.5 653.7,336.1 651.2,337.8 647.9,338.2 644.6,338.2 643.8,339.8 645,341.9 647.5,341.1 650,340.2 649.1,341.9 646.7,343.1 645.4,344.4 647.1,347.7 648.7,350.5 648.3,353.4 646.7,352.2 645.4,349.3 644.2,346 643.4,345.2 642.9,348.5 642.5,353 640.5,353.4 640.9,349.7 639.7,346.8 640.1,342.7 640.9,339.4Z"/>
<path fill="#feb24c" d="M659.4,333.2 661.1,333.7 661.9,335.7 661.5,337.8 660.2,337.4 660.7,339.4 661.5,340.7 660.2,340.2 659.4,337.8 659.3,335.3Z"/>
<path fill="#feb24c" d="M610,354.2 612.5,354.7 615.8,356.3 619.1,356.3 622.4,356.3 625.2,358.4 628.5,359.6 630.6,360.4 629.4,361.7 626.5,360.8 623.2,360 619.9,358.8 616.6,358.4 613.3,357.5 610,356.7 606.7,355.5 604.2,354.2 604.6,353.3 607.5,353.6Z"/>
<path fill="#feb24c" d="M633.5,362.1 636.4,360.4 638.8,361.2 637.2,362.5 634.3,362.9ZM640.5,361.2 642.9,360.4 646.2,360.8 647.9,360.2 647.5,361.5 644.6,362.1 641.7,362.1ZM638.8,363.7 640.9,363.3 642.5,365.4 640.5,365.8ZM648.7,365.4 650.8,363.3 652.8,362.1 653.2,363.1 651.2,365 649.5,366.2ZM655.7,347.2 658.6,346.8 658.2,348.5 656.5,348.6ZM660.2,346.8 662.7,346.2 665.6,346.8 666.8,348.5 664.8,348.1 662.3,347.8 660.4,347.8ZM674.3,353.8 675.5,353 675.9,354.7 674.9,356.7 674.1,355.9Z"/>
<path fill="#fed976" d="M152.7,292.2 156.9,291.8 157.1,295.1 158.8,297.4 156,300.2 154.1,302.1 150.8,301.6 149.2,300 150.4,296.9 152.7,295.5Z"/>
<path fill="#fed976" d="M191.3,289.4 194.6,288.9 194.4,286.6 197.9,286.4 198.4,289.4 197.6,291.8 196.5,289.9 193.6,290.8 191.6,290.5Z"/>
<path fill="#ffffcc" d="M197.9,286.4 201.2,286.6 204.9,288.9 204,290.2 200.2,290.2 198.4,291.8 197.6,291.8 198.4,289.4Z"/>
<path fill="#ffffcc" d="M196.7,305.8 197.5,307.5 195,309.6 192.9,312.9 192.5,315.4 194.2,317.9 195.4,320 199.2,320.8 202.1,322.1 205.4,322.5 205,325.8 204.3,329.2 205.4,331.7 206.7,335.4 204.6,333.8 201.7,334.2 199.6,335.8 200,338.3 199.2,340.4 199.6,345 194.2,344.6 191.7,342.5 187.9,339.6 184.6,337.5 181.2,336.2 178.8,334.2 180.8,331.2 182.5,328.3 181.7,325.8 182.1,321.7 182.5,317.5 184.6,315.4 186.7,312.9 187.9,310 191.7,308.8 194.6,307.1Z"/>
<path fill="#e31a1c" d="M324,302.7 326.8,302 329.6,302.1 330,303.3 327.2,303.5 324,303.8Z"/>
<path fill="#fed976" d="M363.9,309.2 364.9,309.1 366,311.2 366.6,316.8 366.7,322.5 364.6,322.5 364.2,318.2 364,313.3Z"/>
<path fill="#fd8d3c" d="M430.8,343.5 432.9,342.5 434.7,343.3 434.4,345.2 432.5,346 431,345.6Z"/>
<path fill="#e31a1c" d="M431,345.8 432.5,346.2 434.4,345.3 433.7,347.7 432.1,349.7 430.9,348.9Z"/>
<path fill="#ffeda0" d="M439.1,363.5 441.5,364.7 442.1,370.6 443.8,374.1 444.4,380 442.6,382.4 441.5,378.8 439.7,375.3 439.7,369.4Z"/>
<path fill="#fd8d3c" d="M422.6,417.1 425.6,414.4 428.2,415.9 425.6,419.4Z"/>
<path fill="#ffeda0" d="M542.4,261.1 544.4,258.6 547.7,259.8 552.2,262.3 557.2,264.4 560.9,264.8 561.3,268.9 557.2,268.5 553.1,266.8 548.9,265.2 544.4,263.5Z"/>
<path fill="url(#hatch)" d="M562.5,265.6 565.4,264.4 569.1,264.8 570,266.8 567.1,268.1 563.4,267.7Z"/>
<path fill="#fed976" d="M562.1,269.7 563.8,269.7 566.2,271.4 568.7,272.2 571.2,272.6 571.6,274.7 570.4,277.5 571.2,276.7 572.4,277.9 572.8,281.2 573.7,283.7 572.4,282.5 571.2,279.6 570,277.9 568.7,280.4 566.2,280.4 565,277.5 563.8,274.7 562.9,272.2Z"/>
<path fill="#9f0026" d="M652.4,362.1 654.9,360.8 657.8,360.4 657.4,361.5 654.9,362.5 653.2,363.1Z"/>
</g>
<g font-family="'Liberation Serif', serif" font-weight="bold" font-size="24" fill="#303030">
<text y="36.8"><tspan x="16.5" textLength="55.1" lengthAdjust="spacingAndGlyphs">Share</tspan> <tspan x="78.6" textLength="16.8" lengthAdjust="spacingAndGlyphs">of</tspan> <tspan x="100.6" textLength="72.4" lengthAdjust="spacingAndGlyphs">women</tspan> <tspan x="179.5" textLength="38.5" lengthAdjust="spacingAndGlyphs">who</tspan> <tspan x="224.3" textLength="67.2" lengthAdjust="spacingAndGlyphs">believe</tspan> <tspan x="298" textLength="10.3" lengthAdjust="spacingAndGlyphs">a</tspan> <tspan x="313.5" textLength="82.8" lengthAdjust="spacingAndGlyphs">husband</tspan> <tspan x="403.6" textLength="13.4" lengthAdjust="spacingAndGlyphs">is</tspan> <tspan x="424.1" textLength="80.5" lengthAdjust="spacingAndGlyphs">justified</tspan> <tspan x="511.6" textLength="17" lengthAdjust="spacingAndGlyphs">in</tspan> <tspan x="535.6" textLength="69.2" lengthAdjust="spacingAndGlyphs">beating</tspan> <tspan x="611.9" textLength="29.6" lengthAdjust="spacingAndGlyphs">his</tspan></text>
<text y="63.4"><tspan x="16.5" textLength="46.5" lengthAdjust="spacingAndGlyphs">wife,</tspan> <tspan x="69.5" textLength="44" lengthAdjust="spacingAndGlyphs">2023</tspan></text>
</g>
<g font-family="'Liberation Sans', sans-serif" font-size="14.4" fill="#5b5b5b">
<text y="87.7"><tspan x="16.6" textLength="162" lengthAdjust="spacingAndGlyphs">Women aged 15-49 who</tspan> <tspan x="183.9" textLength="134.8" lengthAdjust="spacingAndGlyphs">believe a husband or</tspan> <tspan x="323.7" textLength="130.7" lengthAdjust="spacingAndGlyphs">partner is justified in</tspan> <tspan x="460" textLength="134.7" lengthAdjust="spacingAndGlyphs">hitting or beating his</tspan> <tspan x="600.4" textLength="116.7" lengthAdjust="spacingAndGlyphs">wife or partner for</tspan> <tspan x="722.7" textLength="65.2" lengthAdjust="spacingAndGlyphs">any of the</tspan></text>
<text y="105.3"><tspan x="16.6" textLength="143.3" lengthAdjust="spacingAndGlyphs">following five reasons:</tspan> <tspan x="165.5" textLength="113.1" lengthAdjust="spacingAndGlyphs">arguing with him;</tspan> <tspan x="284.8" textLength="130.1" lengthAdjust="spacingAndGlyphs">refusing to have sex;</tspan> <tspan x="423.2" textLength="110.8" lengthAdjust="spacingAndGlyphs">burning the food;</tspan> <tspan x="540.4" textLength="114.6" lengthAdjust="spacingAndGlyphs">going out without</tspan> <tspan x="660.6" textLength="161.1" lengthAdjust="spacingAndGlyphs">telling him; or neglecting</tspan></text>
<text y="123"><tspan x="16.6" textLength="79.7" lengthAdjust="spacingAndGlyphs">the children.</tspan></text>
</g>
<rect x="769" y="16" width="65" height="36" fill="#002147"/><rect x="769" y="49.3" width="65" height="2.7" fill="#ce261e"/>
<g font-family="'Liberation Sans', sans-serif" font-weight="bold" font-size="11.5" fill="#fff" text-anchor="middle">
<text x="801.4" y="30.8" textLength="54.5" lengthAdjust="spacingAndGlyphs">Our World</text>
<text x="801.6" y="42.6" textLength="36" lengthAdjust="spacingAndGlyphs">in Data</text>
</g>
<rect x="98.5" y="518.2" width="48" height="10.2" rx="1" fill="url(#hatch2)" stroke="#c4c4c4" stroke-width="0.8"/>
<line x1="122.5" y1="514.6" x2="122.5" y2="518.2" stroke="#999" stroke-width="0.6"/>
<rect x="166" y="518.2" width="58.5" height="10.2" fill="#ffffcc" stroke="#555" stroke-opacity="0.45" stroke-width="0.5"/>
<rect x="224.5" y="518.2" width="58.5" height="10.2" fill="#ffeda0" stroke="#555" stroke-opacity="0.45" stroke-width="0.5"/>
<rect x="283" y="518.2" width="58.5" height="10.2" fill="#fed976" stroke="#555" stroke-opacity="0.45" stroke-width="0.5"/>
<rect x="341.5" y="518.2" width="58.5" height="10.2" fill="#feb24c" stroke="#555" stroke-opacity="0.45" stroke-width="0.5"/>
<rect x="400" y="518.2" width="58.5" height="10.2" fill="#fd8d3c" stroke="#555" stroke-opacity="0.45" stroke-width="0.5"/>
<rect x="458.5" y="518.2" width="58.5" height="10.2" fill="#fc4e2a" stroke="#555" stroke-opacity="0.45" stroke-width="0.5"/>
<rect x="517" y="518.2" width="58.5" height="10.2" fill="#e31a1c" stroke="#555" stroke-opacity="0.45" stroke-width="0.5"/>
<rect x="575.5" y="518.2" width="58.5" height="10.2" fill="#bd0026" stroke="#555" stroke-opacity="0.45" stroke-width="0.5"/>
<rect x="634" y="518.2" width="58.5" height="10.2" fill="#9f0026" stroke="#555" stroke-opacity="0.45" stroke-width="0.5"/>
<rect x="692.5" y="518.2" width="58.5" height="10.2" fill="#800026" stroke="#555" stroke-opacity="0.45" stroke-width="0.5"/>
<line x1="166" y1="514.6" x2="166" y2="518.2" stroke="#999" stroke-width="0.6"/>
<line x1="224.5" y1="514.6" x2="224.5" y2="518.2" stroke="#999" stroke-width="0.6"/>
<line x1="283" y1="514.6" x2="283" y2="518.2" stroke="#999" stroke-width="0.6"/>
<line x1="341.5" y1="514.6" x2="341.5" y2="518.2" stroke="#999" stroke-width="0.6"/>
<line x1="400" y1="514.6" x2="400" y2="518.2" stroke="#999" stroke-width="0.6"/>
<line x1="458.5" y1="514.6" x2="458.5" y2="518.2" stroke="#999" stroke-width="0.6"/>
<line x1="517" y1="514.6" x2="517" y2="518.2" stroke="#999" stroke-width="0.6"/>
<line x1="575.5" y1="514.6" x2="575.5" y2="518.2" stroke="#999" stroke-width="0.6"/>
<line x1="634" y1="514.6" x2="634" y2="518.2" stroke="#999" stroke-width="0.6"/>
<line x1="692.5" y1="514.6" x2="692.5" y2="518.2" stroke="#999" stroke-width="0.6"/>
<line x1="751" y1="514.6" x2="751" y2="518.2" stroke="#999" stroke-width="0.6"/>
<g font-family="'Liberation Sans', sans-serif" font-size="13.7" fill="#333" text-anchor="middle">
<text x="122.4" y="511.2" textLength="46.5" lengthAdjust="spacingAndGlyphs">No data</text>
<text x="166" y="511.2" textLength="18" lengthAdjust="spacingAndGlyphs">0%</text>
<text x="224.5" y="511.2" textLength="26.2" lengthAdjust="spacingAndGlyphs">10%</text>
<text x="283" y="511.2" textLength="26.2" lengthAdjust="spacingAndGlyphs">20%</text>
<text x="341.5" y="511.2" textLength="26.2" lengthAdjust="spacingAndGlyphs">30%</text>
<text x="400" y="511.2" textLength="26.2" lengthAdjust="spacingAndGlyphs">40%</text>
<text x="458.5" y="511.2" textLength="26.2" lengthAdjust="spacingAndGlyphs">50%</text>
<text x="517" y="511.2" textLength="26.2" lengthAdjust="spacingAndGlyphs">60%</text>
<text x="575.5" y="511.2" textLength="26.2" lengthAdjust="spacingAndGlyphs">70%</text>
<text x="634" y="511.2" textLength="26.2" lengthAdjust="spacingAndGlyphs">80%</text>
<text x="692.5" y="511.2" textLength="26.2" lengthAdjust="spacingAndGlyphs">90%</text>
<text x="751" y="511.2" textLength="35" lengthAdjust="spacingAndGlyphs">100%</text>
</g>
<g font-family="'Liberation Sans', sans-serif" font-size="13" fill="#7a7a7a">
<text y="561"><tspan x="16.5" textLength="71" lengthAdjust="spacingAndGlyphs" font-weight="bold" fill="#6e6e6e">Data source:</tspan> <tspan x="92" textLength="498.5" lengthAdjust="spacingAndGlyphs">Demographic and Health Surveys (DHS), The DHS Program (ICF), via World Bank (2026)</tspan></text>
<text y="579"><tspan x="16.5" textLength="198.5" lengthAdjust="spacingAndGlyphs">OurWorldinData.org/women-rights</tspan> <tspan x="221.5" textLength="42" lengthAdjust="spacingAndGlyphs">| CC BY</tspan></text>
</g>
</svg>
</body></html>
